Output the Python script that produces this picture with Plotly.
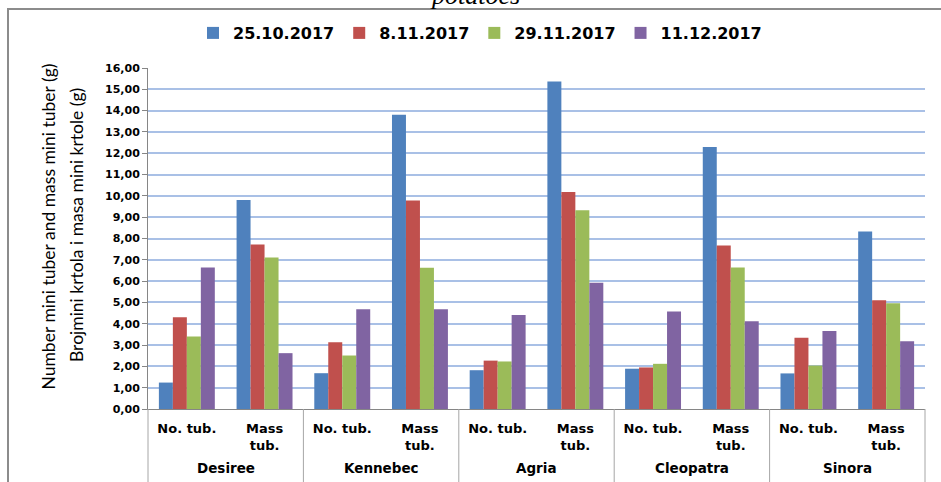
import plotly.graph_objects as go

varieties = ["Desiree", "Kennebec", "Agria", "Cleopatra", "Sinora"]
subcats = ["No. tub.", "Mass<br>tub."]
dates = ["25.10.2017", "8.11.2017", "29.11.2017", "11.12.2017"]
colors = ["#4F81BD", "#C0504D", "#9BBB59", "#8064A2"]

# values per date, order: Desiree(No,Mass), Kennebec(No,Mass), Agria, Cleopatra, Sinora
v_25_10 = [1.24, 9.81, 1.68, 13.81, 1.82, 15.37, 1.89, 12.29, 1.67, 8.33]
v_8_11 = [4.30, 7.72, 3.13, 9.78, 2.27, 10.18, 1.95, 7.67, 3.34, 5.10]
v_29_11 = [3.40, 7.11, 2.51, 6.63, 2.23, 9.32, 2.12, 6.64, 2.04, 4.96]
v_11_12 = [6.64, 2.62, 4.68, 4.68, 4.41, 5.92, 4.57, 4.12, 3.66, 3.18]
series = [v_25_10, v_8_11, v_29_11, v_11_12]

y_ticks = list(range(0, 17))

inner = [s for _ in varieties for s in subcats]
n_cat = len(inner)
xpos = list(range(n_cat))

fig = go.Figure()
for name, vals, col in zip(dates, series, colors):
    fig.add_trace(go.Bar(
        x=xpos, y=vals, name=name,
        marker=dict(color=col, line=dict(width=0)),
    ))

L, R, T, B = 148, 16, 68, 73
W, H = 941, 482
pw, ph = W - L - R, H - T - B

def px(xp):
    return (xp - L) / pw

def py(yp):
    return (H - B - yp) / ph

fig.update_layout(
    width=W, height=H,
    margin=dict(l=L, r=R, t=T, b=B, pad=0, autoexpand=False),
    paper_bgcolor="white", plot_bgcolor="white",
    barmode="group", bargap=0.28, bargroupgap=0,
    separators=",.",
    showlegend=True,
    legend=dict(
        orientation="h", x=px(480), xanchor="center", y=py(33), yanchor="middle",
        font=dict(family="DejaVu Sans", size=16, color="black", weight="bold"),
        bgcolor="rgba(0,0,0,0)", itemclick=False,
    ),
    font=dict(family="DejaVu Sans", color="black"),
)

fig.update_yaxes(
    range=[0, 16], tickvals=y_ticks, tickformat=".2f",
    showgrid=True, gridcolor="#A9C0E6", gridwidth=1.5,
    showline=True, linecolor="#868686", linewidth=1,
    ticks="outside", ticklen=5, tickcolor="#868686",
    tickfont=dict(family="DejaVu Sans", size=11, color="black", weight="bold"),
    zeroline=False,
)
fig.update_xaxes(
    range=[-0.5, n_cat - 0.5], tickvals=xpos, ticktext=inner,
    showline=True, linecolor="#868686", linewidth=1, showgrid=False,
    ticks="", ticklabelstandoff=7,
    tickfont=dict(family="DejaVu Sans", size=13, color="black", weight="bold"),
)

# outer category labels and dividers
n_sub = len(subcats)
for i, v in enumerate(varieties):
    fig.add_annotation(
        text=v, xref="x", yref="paper", x=i * n_sub + (n_sub - 1) / 2, y=py(468),
        xanchor="center", yanchor="middle", showarrow=False,
        font=dict(family="DejaVu Sans", size=13.5, color="black", weight="bold"),
    )
for i in range(len(varieties) + 1):
    xf = i * n_sub / n_cat
    fig.add_shape(
        type="line", xref="paper", yref="paper", x0=xf, x1=xf, y0=0, y1=py(495),
        line=dict(color="#A6A6A6", width=1),
    )

# y-axis titles (two lines)
fig.add_annotation(
    text="Number mini tuber and mass mini tuber (g)", textangle=-90,
    xref="paper", yref="paper", x=px(47.5), y=py(227), xanchor="center", yanchor="middle",
    showarrow=False, font=dict(family="Lato", size=17.5, color="black"),
)
fig.add_annotation(
    text="Brojmini krtola i masa mini krtole (g)", textangle=-90,
    xref="paper", yref="paper", x=px(76), y=py(225), xanchor="center", yanchor="middle",
    showarrow=False, font=dict(family="Lato", size=17.5, color="black"),
)
# cut-off caption above frame
fig.add_annotation(
    text="<i>potatoes</i>", xref="paper", yref="paper", x=px(475), y=py(12),
    xanchor="center", yanchor="bottom", showarrow=False,
    font=dict(family="Liberation Serif", size=26, color="black"),
)
# outer frame
fig.add_shape(
    type="rect", xref="paper", yref="paper",
    x0=px(8), x1=px(950), y0=py(495), y1=py(9),
    line=dict(color="#8C8C8C", width=2), fillcolor="rgba(0,0,0,0)", layer="below",
)

fig.write_html("out.html", config={"displayModeBar": False},
               post_script="document.body.style.margin='0';")
